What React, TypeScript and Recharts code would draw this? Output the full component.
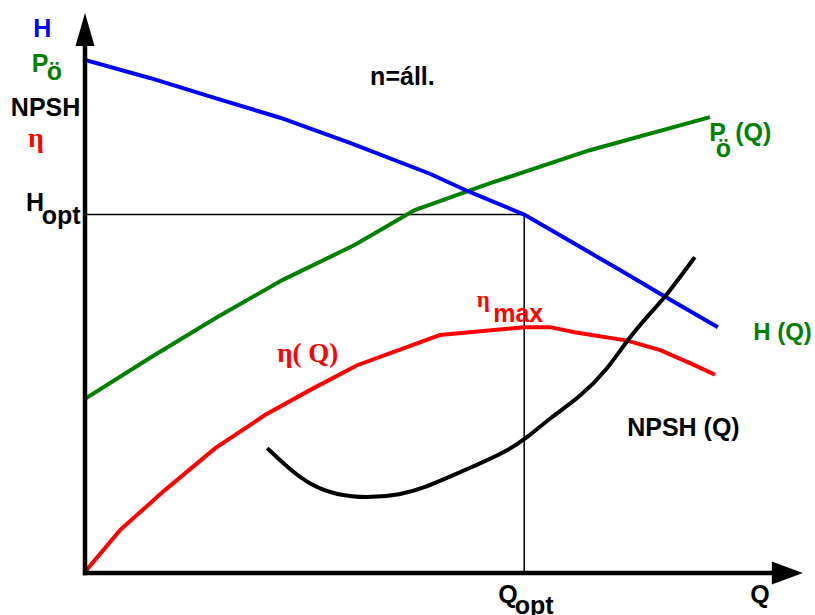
import { ComposedChart, Line, XAxis, YAxis, ReferenceLine, ReferenceDot } from "recharts";

// Q in % of axis length, value in % of axis height
const headCurve = [
  { q: 0, v: 91.6 }, { q: 9, v: 88.4 }, { q: 18.1, v: 84.8 }, { q: 27.1, v: 81.3 },
  { q: 36.8, v: 76.8 }, { q: 47.9, v: 71.3 }, { q: 53.5, v: 68.0 }, { q: 61, v: 64 },
  { q: 68.8, v: 58.2 }, { q: 74.3, v: 54.1 }, { q: 81.3, v: 48.8 }, { q: 87.9, v: 43.9 },
];

const powerCurve = [
  { q: 0, v: 31.1 }, { q: 9, v: 38.4 }, { q: 18.1, v: 45.5 }, { q: 27.4, v: 52.3 },
  { q: 37.5, v: 58.6 }, { q: 45.8, v: 64.8 }, { q: 56.3, v: 69.6 }, { q: 70.1, v: 75.5 },
  { q: 86.8, v: 81.4 },
];

const effCurve = [
  { q: 0, v: 0.2 }, { q: 4.9, v: 7.7 }, { q: 11.1, v: 14.8 }, { q: 18.1, v: 22.3 },
  { q: 25, v: 28.2 }, { q: 31.3, v: 32.7 }, { q: 37.8, v: 37.1 }, { q: 49.3, v: 42.5 },
  { q: 61.1, v: 43.9 }, { q: 64.6, v: 43.9 }, { q: 68, v: 43.0 }, { q: 75.3, v: 41.5 },
  { q: 79.9, v: 39.8 }, { q: 84.5, v: 37.2 }, { q: 87.5, v: 35.4 },
];

const npshCurve = [
  { q: 25.3, v: 22.3 }, { q: 28.1, v: 18.9 }, { q: 31.25, v: 15.7 }, { q: 35, v: 13.9 },
  { q: 39.2, v: 13.4 }, { q: 43.75, v: 13.9 }, { q: 47.5, v: 15.4 }, { q: 50.3, v: 17.0 },
  { q: 54.4, v: 19.3 }, { q: 58.1, v: 21.4 }, { q: 61.4, v: 24.1 }, { q: 64.6, v: 27.7 },
  { q: 68.75, v: 31.4 }, { q: 72.5, v: 36.25 }, { q: 75.3, v: 41.6 }, { q: 78.5, v: 46.4 },
  { q: 80.8, v: 49.6 }, { q: 84.7, v: 56.4 },
];

const qOpt = 61;
const hOpt = 64;

type Lbl = { q: number; v: number; text: string; color: string; serif?: boolean; size?: number };

const labels: Lbl[] = [
  { q: -7.2, v: 95.7, text: "H", color: "#0000ff" },
  { q: -7.4, v: 89.5, text: "P", color: "#008000" },
  { q: -5.3, v: 88.0, text: "ö", color: "#008000" },
  { q: -10.3, v: 81.6, text: "NPSH", color: "#000" },
  { q: -7.9, v: 76.0, text: "η", color: "#ff0000", serif: true, size: 28 },
  { q: -8.2, v: 64.6, text: "H", color: "#000" },
  { q: -6.0, v: 62.3, text: "opt", color: "#000" },
  { q: 39.6, v: 87.1, text: "n=áll.", color: "#000" },
  { q: 86.7, v: 77.1, text: "P", color: "#008000" },
  { q: 87.6, v: 74.3, text: "ö", color: "#008000" },
  { q: 90.3, v: 77.1, text: "(Q)", color: "#008000" },
  { q: 92.8, v: 41.6, text: "H (Q)", color: "#008000", size: 24 },
  { q: 75.3, v: 24.5, text: "NPSH (Q)", color: "#000" },
  { q: 26.7, v: 37.7, text: "η( Q)", color: "#ff0000", serif: true, size: 27 },
  { q: 54.4, v: 47.5, text: "η", color: "#ff0000", serif: true, size: 23 },
  { q: 56.7, v: 44.8, text: "max", color: "#ff0000" },
  { q: 57.4, v: -5.4, text: "Q", color: "#000" },
  { q: 59.7, v: -7.3, text: "opt", color: "#000" },
  { q: 92.4, v: -5.4, text: "Q", color: "#000" },
];

const sans = "'Liberation Sans', Arial, sans-serif";
const serif = "'Liberation Serif', 'Times New Roman', serif";

export default function App() {
  return (
    <div style={{ width: 815, height: 615 }}>
      <style>{"body{margin:0}"}</style>
      <ComposedChart
        width={815}
        height={615}
        margin={{ top: 13, right: 10, bottom: 42, left: 85 }}
        style={{ background: "#fff" }}
      >
        <XAxis type="number" dataKey="q" domain={[0, 100]} hide allowDataOverflow />
        <YAxis type="number" dataKey="v" domain={[0, 100]} hide allowDataOverflow />

        <ReferenceLine segment={[{ x: 0, y: hOpt }, { x: qOpt, y: hOpt }]} stroke="#000" strokeWidth={1.5} ifOverflow="visible" />
        <ReferenceLine segment={[{ x: qOpt, y: 0 }, { x: qOpt, y: hOpt }]} stroke="#000" strokeWidth={1.5} ifOverflow="visible" />

        <Line data={powerCurve} dataKey="v" stroke="#008000" strokeWidth={4} dot={false} isAnimationActive={false} type="linear" />
        <Line data={headCurve} dataKey="v" stroke="#0000ff" strokeWidth={4} dot={false} isAnimationActive={false} type="linear" />
        <Line data={effCurve} dataKey="v" stroke="#ff0000" strokeWidth={4} dot={false} isAnimationActive={false} type="linear" />
        <Line data={npshCurve} dataKey="v" stroke="#000" strokeWidth={4} dot={false} isAnimationActive={false} type="basis" />

        <ReferenceLine segment={[{ x: 0, y: -0.4 }, { x: 0, y: 94.5 }]} stroke="#000" strokeWidth={4.5} ifOverflow="visible" />
        <ReferenceLine segment={[{ x: -0.3, y: 0 }, { x: 96, y: 0 }]} stroke="#000" strokeWidth={4.5} ifOverflow="visible" />
        <ReferenceDot
          x={0}
          y={100}
          ifOverflow="visible"
          shape={(p: any) => (
            <polygon points={`${p.cx - 9.5},${p.cy + 33} ${p.cx + 9.5},${p.cy + 33} ${p.cx},${p.cy}`} fill="#000" />
          )}
        />
        <ReferenceDot
          x={99.7}
          y={0}
          ifOverflow="visible"
          shape={(p: any) => (
            <polygon points={`${p.cx},${p.cy} ${p.cx - 31},${p.cy - 11.5} ${p.cx - 31},${p.cy + 11.5}`} fill="#000" />
          )}
        />

        {labels.map((l, i) => (
          <ReferenceDot
            key={i}
            x={l.q}
            y={l.v}
            ifOverflow="visible"
            shape={(p: any) => (
              <text
                x={p.cx}
                y={p.cy}
                fill={l.color}
                fontFamily={l.serif ? serif : sans}
                fontWeight="bold"
                fontSize={l.size ?? 25}
              >
                {l.text}
              </text>
            )}
          />
        ))}
      </ComposedChart>
    </div>
  );
}
